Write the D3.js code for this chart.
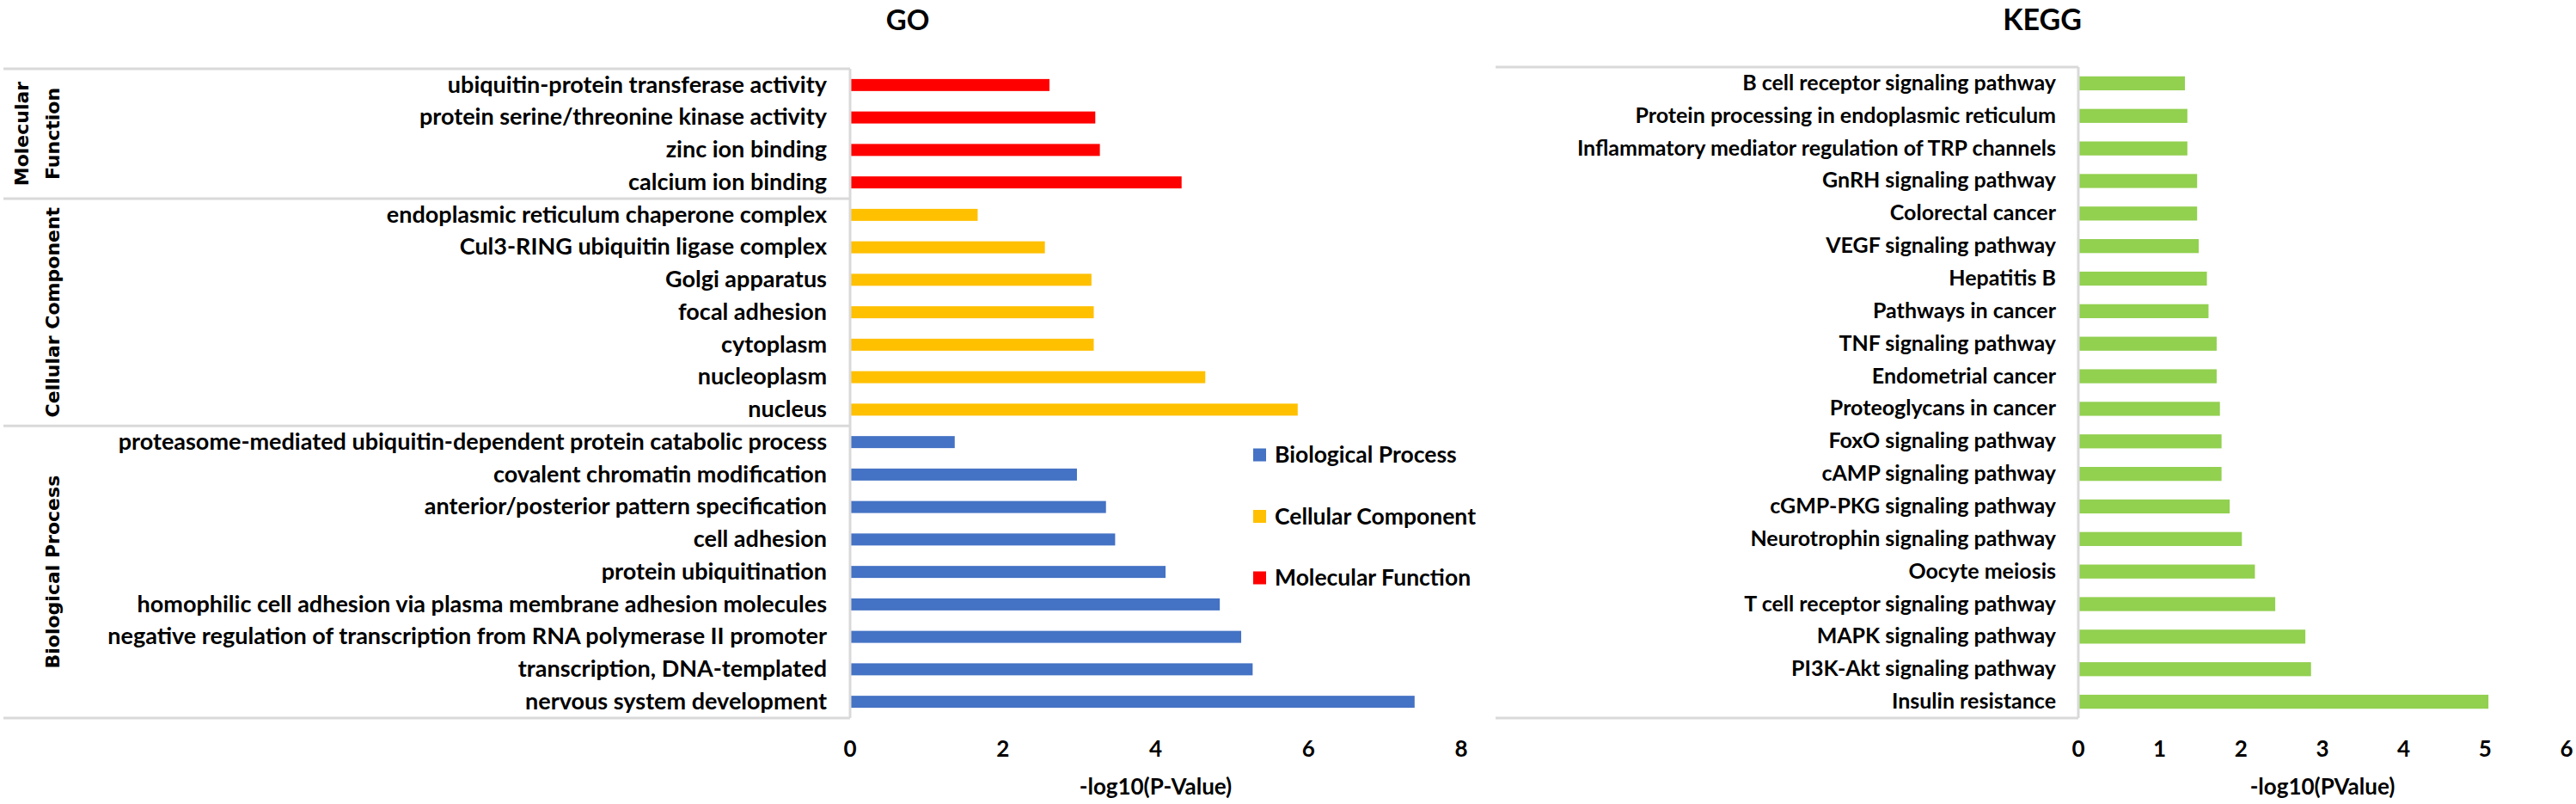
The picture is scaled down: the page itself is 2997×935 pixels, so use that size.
<!DOCTYPE html>
<html>
<head>
<meta charset="utf-8">
<script src="https://cdnjs.cloudflare.com/ajax/libs/d3/7.8.5/d3.min.js"></script>
<style>
body{margin:0;background:#fff}
text{font-family:Lato,"Open Sans",sans-serif;font-weight:700;fill:#000}
</style>
</head>
<body>
<script>
// GO terms, top to bottom
var mfTerms = ["ubiquitin-protein transferase activity","protein serine/threonine kinase activity","zinc ion binding","calcium ion binding"]
var mfValues = [2.61,3.21,3.27,4.34]
var ccTerms = ["endoplasmic reticulum chaperone complex","Cul3-RING ubiquitin ligase complex","Golgi apparatus","focal adhesion","cytoplasm","nucleoplasm","nucleus"]
var ccValues = [1.67,2.55,3.16,3.19,3.19,4.65,5.86]
var bpTerms = ["proteasome-mediated ubiquitin-dependent protein catabolic process","covalent chromatin modification","anterior/posterior pattern specification","cell adhesion","protein ubiquitination","homophilic cell adhesion via plasma membrane adhesion molecules","negative regulation of transcription from RNA polymerase II promoter","transcription, DNA-templated","nervous system development"]
var bpValues = [1.37,2.97,3.35,3.47,4.13,4.84,5.12,5.27,7.39]
var goTicks = [0,2,4,6,8]
var legendNames = ["Biological Process","Cellular Component","Molecular Function"]

// KEGG pathways, top to bottom
var keggTerms = ["B cell receptor signaling pathway","Protein processing in endoplasmic reticulum","Inflammatory mediator regulation of TRP channels","GnRH signaling pathway","Colorectal cancer","VEGF signaling pathway","Hepatitis B","Pathways in cancer","TNF signaling pathway","Endometrial cancer","Proteoglycans in cancer","FoxO signaling pathway","cAMP signaling pathway","cGMP-PKG signaling pathway","Neurotrophin signaling pathway","Oocyte meiosis","T cell receptor signaling pathway","MAPK signaling pathway","PI3K-Akt signaling pathway","Insulin resistance"]
var keggValues = [1.31,1.34,1.34,1.46,1.46,1.48,1.58,1.60,1.70,1.70,1.74,1.76,1.76,1.86,2.01,2.17,2.42,2.79,2.86,5.04]
var keggTicks = [0,1,2,3,4,5,6]

var colors = {"Biological Process":"#4472C4","Cellular Component":"#FFC000","Molecular Function":"#FF0000"}
var lineColor = "#D9D9D9"

var W = 2997, H = 935
var svg = d3.select("body").append("svg").attr("width",W).attr("height",H)

// ---------- GO ----------
var goRows = []
mfTerms.forEach(function(t,i){goRows.push({term:t,value:mfValues[i],group:"Molecular Function"})})
ccTerms.forEach(function(t,i){goRows.push({term:t,value:ccValues[i],group:"Cellular Component"})})
bpTerms.forEach(function(t,i){goRows.push({term:t,value:bpValues[i],group:"Biological Process"})})

var go = svg.append("g").attr("class","go")
var gx = d3.scaleLinear().domain([0,8]).range([989,1700])
var gy = d3.scaleBand().domain(goRows.map(function(d){return d.term})).range([80,835]).paddingInner(0.63).paddingOuter(0.315)

go.append("text").attr("x",1056).attr("y",35)
	.attr("text-anchor","middle").style("font-size","33px").text("GO")

go.selectAll("rect.bar").data(goRows).enter().append("rect")
	.attr("class","bar")
	.attr("x",gx(0))
	.attr("y",function(d){return gy(d.term)})
	.attr("width",function(d){return gx(d.value)-gx(0)})
	.attr("height",gy.bandwidth())
	.attr("fill",function(d){return colors[d.group]})

// category labels
var gAxis = d3.axisLeft(gy).tickSize(0).tickPadding(27)
go.append("g").attr("transform","translate("+gx(0)+",0)").call(gAxis)
	.call(function(g){g.select(".domain").remove()})
	.selectAll("text").style("font-size","27px").style("font-family","Lato, sans-serif")

// group box lines
var step = gy.step()
var y0 = gy(mfTerms[0]) - gy.paddingOuter()*step
var bounds = [y0, y0+mfTerms.length*step, y0+(mfTerms.length+ccTerms.length)*step, y0+goRows.length*step]
go.selectAll("line.sep").data(bounds).enter().append("line")
	.attr("x1",4).attr("x2",gx(0))
	.attr("y1",function(d){return d}).attr("y2",function(d){return d})
	.attr("stroke",lineColor).attr("stroke-width",3)
go.append("line").attr("x1",gx(0)).attr("x2",gx(0)).attr("y1",bounds[0]).attr("y2",bounds[3])
	.attr("stroke",lineColor).attr("stroke-width",3)

// rotated group names
var groupLabels = [
	{lines:["Molecular","Function"],top:bounds[0],bot:bounds[1],xs:[25,61]},
	{lines:["Cellular Component"],top:bounds[1],bot:bounds[2],xs:[61]},
	{lines:["Biological Process"],top:bounds[2],bot:bounds[3],xs:[61]}
]
groupLabels.forEach(function(g){
	var cy=(g.top+g.bot)/2
	g.lines.forEach(function(l,i){
		go.append("text")
			.attr("transform","translate("+g.xs[i]+","+cy+") rotate(-90)")
			.attr("text-anchor","middle").attr("dy","0.35em")
			.style("font-family","'DejaVu Sans', Verdana, sans-serif")
			.style("font-size","22px")
			.text(l)
	})
})

// x axis ticks
go.selectAll("text.tick").data(goTicks).enter().append("text")
	.attr("x",function(d){return gx(d)}).attr("y",871).attr("dy","0.35em")
	.attr("text-anchor","middle").style("font-size","26px").text(function(d){return d})
go.append("text").attr("x",gx(4)).attr("y",915).attr("dy","0.35em")
	.attr("text-anchor","middle").style("font-size","26px").text("-log10(P-Value)")

// legend
var lg = go.selectAll("g.leg").data(legendNames).enter().append("g")
	.attr("transform",function(d,i){return "translate(1458,"+(529+i*71.5)+")"})
lg.append("rect").attr("x",0).attr("y",-7.5).attr("width",15).attr("height",15)
	.attr("fill",function(d){return colors[d]})
lg.append("text").attr("x",25).attr("dy","0.35em").style("font-size","26.5px").text(function(d){return d})

// ---------- KEGG ----------
var kg = svg.append("g").attr("class","kegg")
var kx = d3.scaleLinear().domain([0,6]).range([2418,2986])
var ky = d3.scaleBand().domain(keggTerms).range([78,835]).paddingInner(0.57).paddingOuter(0.285)

kg.append("text").attr("x",2376).attr("y",35)
	.attr("text-anchor","middle").style("font-size","34px").text("KEGG")

kg.selectAll("rect").data(keggValues).enter().append("rect")
	.attr("x",kx(0))
	.attr("y",function(d,i){return ky(keggTerms[i])})
	.attr("width",function(d){return kx(d)-kx(0)})
	.attr("height",ky.bandwidth())
	.attr("fill","#92D050")

kg.append("g").attr("transform","translate("+kx(0)+",0)")
	.call(d3.axisLeft(ky).tickSize(0).tickPadding(26))
	.call(function(g){g.select(".domain").remove()})
	.selectAll("text").style("font-size","25px").style("font-family","Lato, sans-serif")

var kTop = 78, kBot = 835
kg.selectAll("line.edge").data([kTop,kBot]).enter().append("line")
	.attr("x1",1740).attr("x2",kx(0))
	.attr("y1",function(d){return d}).attr("y2",function(d){return d})
	.attr("stroke",lineColor).attr("stroke-width",3)
kg.append("line").attr("x1",kx(0)).attr("x2",kx(0)).attr("y1",kTop).attr("y2",kBot)
	.attr("stroke",lineColor).attr("stroke-width",3)

kg.selectAll("text.tick").data(keggTicks).enter().append("text")
	.attr("x",function(d){return kx(d)}).attr("y",871).attr("dy","0.35em")
	.attr("text-anchor","middle").style("font-size","26px").text(function(d){return d})
kg.append("text").attr("x",kx(3)).attr("y",915).attr("dy","0.35em")
	.attr("text-anchor","middle").style("font-size","26px").text("-log10(PValue)")
</script>
</body>
</html>
